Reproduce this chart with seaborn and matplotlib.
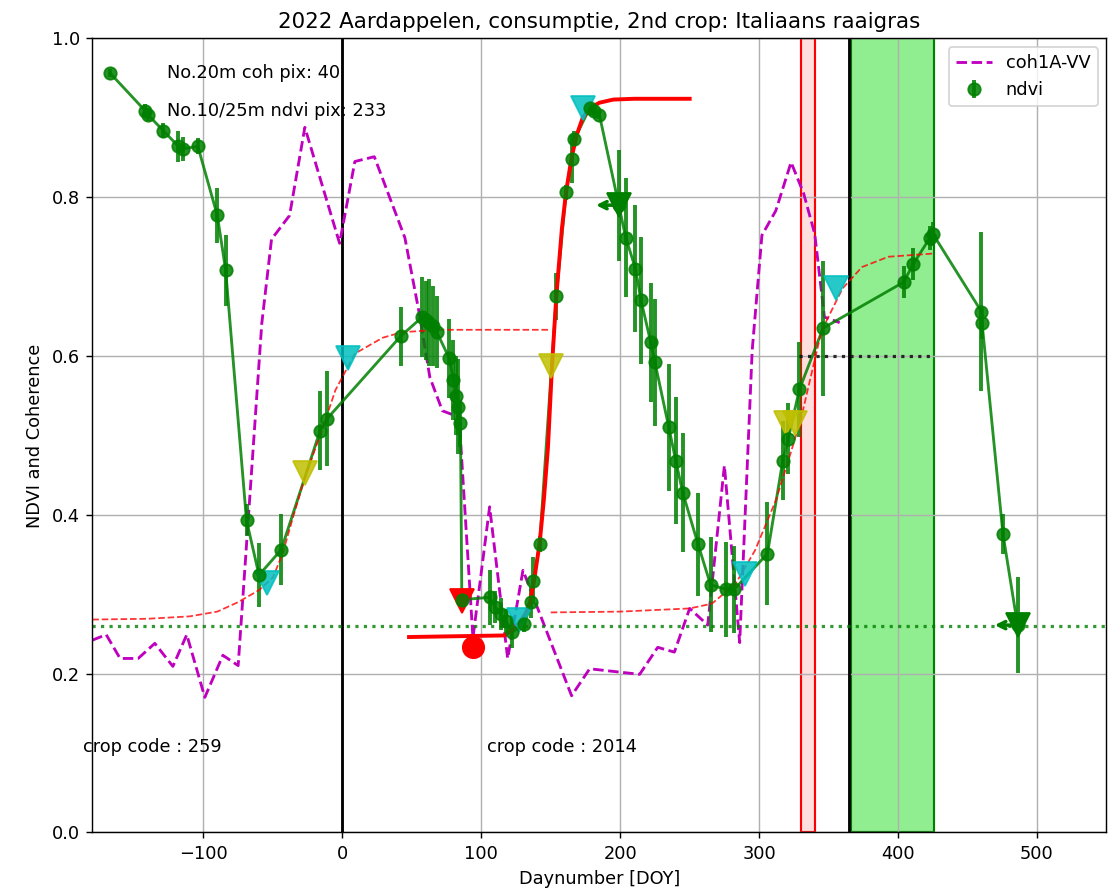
import numpy as np
import matplotlib
matplotlib.use('Agg')
import matplotlib.pyplot as plt
import seaborn as sns

# coherence (coh1A-VV)
coh_doy = [-180, -170, -160, -147, -135, -122, -112, -99, -86, -75, -58, -51, -38, -27, -2, 9, 23, 45, 55, 63,
           72, 84, 94, 106, 119, 130, 165, 178, 214, 227, 239, 250, 263, 275, 286, 295, 302, 312, 323, 332,
           340, 347, 358]
coh_val = [0.242, 0.249, 0.219, 0.219, 0.238, 0.209, 0.249, 0.170, 0.223, 0.210, 0.641, 0.747, 0.777, 0.888,
           0.742, 0.845, 0.851, 0.749, 0.657, 0.573, 0.531, 0.523, 0.245, 0.410, 0.219, 0.330, 0.172, 0.206,
           0.199, 0.233, 0.227, 0.282, 0.261, 0.462, 0.239, 0.607, 0.752, 0.783, 0.844, 0.805, 0.754, 0.649,
           0.642]

# ndvi with error
ndvi_doy = [-167, -142, -140, -129, -118, -115, -104, -90, -84, -69, -60, -44, -16, -11, 42, 57.5, 60, 62.5,
            65, 68, 77, 80, 82, 83.5, 85, 86, 106, 110, 114, 118, 122, 131, 136, 137.5, 142, 154, 161, 165,
            167, 178, 181, 185, 199, 204, 211, 215, 222, 225, 235, 240, 245, 256, 265, 276, 282, 306, 317,
            321, 329, 346, 404, 411, 423, 425, 460, 460.5, 475.5, 486]
ndvi_val = [0.956, 0.909, 0.904, 0.884, 0.864, 0.861, 0.864, 0.777, 0.708, 0.393, 0.324, 0.356, 0.506, 0.521,
            0.625, 0.649, 0.645, 0.642, 0.638, 0.630, 0.597, 0.570, 0.550, 0.536, 0.515, 0.293, 0.296, 0.284,
            0.275, 0.266, 0.252, 0.262, 0.290, 0.317, 0.363, 0.675, 0.806, 0.848, 0.873, 0.912, 0.909, 0.904,
            0.790, 0.749, 0.710, 0.670, 0.617, 0.592, 0.510, 0.468, 0.428, 0.363, 0.312, 0.306, 0.306, 0.351,
            0.468, 0.496, 0.558, 0.635, 0.693, 0.716, 0.749, 0.754, 0.656, 0.641, 0.376, 0.261]
ndvi_err = [0.005, 0.008, 0.008, 0.010, 0.020, 0.015, 0.010, 0.035, 0.045, 0.020, 0.040, 0.045, 0.050, 0.060,
            0.037, 0.050, 0.050, 0.055, 0.050, 0.045, 0.050, 0.050, 0.050, 0.060, 0.030, 0.010, 0.035, 0.020,
            0.020, 0.015, 0.020, 0.010, 0.020, 0.030, 0.010, 0.030, 0.010, 0.030, 0.010, 0.005, 0.005, 0.005,
            0.070, 0.075, 0.080, 0.080, 0.075, 0.080, 0.080, 0.080, 0.075, 0.065, 0.060, 0.060, 0.055, 0.065,
            0.050, 0.045, 0.060, 0.085, 0.020, 0.020, 0.015, 0.015, 0.100, 0.020, 0.025, 0.060]

# fitted curves
fit1_doy = [-180, -140, -110, -90, -75, -60, -50, -43, -35, -27, -14, -5, 9, 29, 43, 70, 148]
fit1_val = [0.268, 0.269, 0.272, 0.278, 0.290, 0.305, 0.321, 0.351, 0.400, 0.447, 0.510, 0.557, 0.603, 0.623,
            0.630, 0.633, 0.633]
fit2_doy = [48, 117, 122, 128, 132, 135, 138, 142, 145, 148, 151, 154, 158, 161, 165, 169, 173, 179, 185, 195,
            210, 250]
fit2_val = [0.246, 0.248, 0.255, 0.265, 0.276, 0.290, 0.317, 0.364, 0.418, 0.485, 0.590, 0.675, 0.760, 0.806,
            0.850, 0.880, 0.900, 0.913, 0.919, 0.923, 0.924, 0.924]
fit3_doy = [150, 200, 250, 266, 283, 297, 312, 321, 330, 338, 345, 360, 374, 393, 425]
fit3_val = [0.277, 0.278, 0.282, 0.288, 0.313, 0.355, 0.418, 0.468, 0.520, 0.580, 0.632, 0.685, 0.712, 0.725,
            0.729]

# markers
cyan_doy = [-54, 4, 127, 173, 290, 355]
cyan_val = [0.314, 0.597, 0.267, 0.912, 0.326, 0.686]
yellow_doy = [-27, 150, 319, 326]
yellow_val = [0.452, 0.587, 0.515, 0.515]
red_tri_doy = [86]
red_tri_val = [0.292]
red_dot_doy = [94]
red_dot_val = [0.233]
end_doy = [199, 486]
end_val = [0.790, 0.261]
arrow_len = 19

base_level = 0.26
thr_doy = [329, 425]
thr_val = [0.6, 0.6]
year_lines = [0, 365]
harvest_span = (330, 340)
green_span = (366, 426)

fig, ax = plt.subplots(figsize=(1112 / 128, 894 / 128), dpi=128)
fig.subplots_adjust(left=0.083, right=0.995, top=0.957, bottom=0.069)

ax.axvspan(*harvest_span, facecolor=(1, 0, 0, 0.13), edgecolor='red', lw=1.2)
ax.axvspan(*green_span, facecolor='lightgreen', edgecolor='green', lw=1.2)
for d in year_lines:
    ax.axvline(d, color='k', lw=1.6)

sns.lineplot(x=coh_doy, y=coh_val, color='m', linestyle='--', lw=1.6, label='coh1A-VV', ax=ax, estimator=None)
# ndvi: points with error bars (legend entry) and connecting line
ax.errorbar(ndvi_doy, ndvi_val, yerr=ndvi_err, color='green', fmt='o', ms=7,
            ecolor='green', elinewidth=2.2, label='ndvi', alpha=0.85)
sns.lineplot(x=ndvi_doy, y=ndvi_val, color='green', lw=1.6, alpha=0.85, ax=ax, estimator=None, sort=False)

sns.lineplot(x=fit1_doy, y=fit1_val, color='red', linestyle='--', lw=1, alpha=0.8, ax=ax, estimator=None)
sns.lineplot(x=fit2_doy, y=fit2_val, color='red', lw=2.2, ax=ax, estimator=None)
sns.lineplot(x=fit3_doy, y=fit3_val, color='red', linestyle='--', lw=1, alpha=0.8, ax=ax, estimator=None)

ax.axhline(base_level, color='green', ls=':', lw=1.8, alpha=0.8)
ax.plot(thr_doy, thr_val, 'k:', lw=1.8, alpha=0.8)

ax.plot(cyan_doy, cyan_val, 'v', color='c', ms=13, alpha=0.85, ls='none')
ax.plot(yellow_doy, yellow_val, 'v', color='y', ms=13, alpha=0.85, ls='none')
ax.plot(red_tri_doy, red_tri_val, 'v', color='red', ms=13, ls='none')
ax.plot(red_dot_doy, red_dot_val, 'o', color='red', ms=12, ls='none')
ax.plot(end_doy, end_val, 'v', color='green', ms=14, ls='none')
for d, v in zip(end_doy, end_val):
    ax.annotate('', xy=(d - arrow_len, v), xytext=(d, v),
                arrowprops=dict(arrowstyle='->', color='green', lw=2))

ax.text(-126, 0.957, 'No.20m coh pix: 40', va='center')
ax.text(-126, 0.908, 'No.10/25m ndvi pix: 233', va='center')
ax.text(-187, 0.107, 'crop code : 259', va='center', clip_on=False)
ax.text(104, 0.107, 'crop code : 2014', va='center')

ax.set_xlim(-180, 550)
ax.set_ylim(0, 1)
ax.grid(True)
ax.set_xlabel('Daynumber [DOY]')
ax.set_ylabel('NDVI and Coherence')
ax.set_title('2022 Aardappelen, consumptie, 2nd crop: Italiaans raaigras')
ax.legend(loc='upper right')

fig.savefig('out.png', dpi=128)
